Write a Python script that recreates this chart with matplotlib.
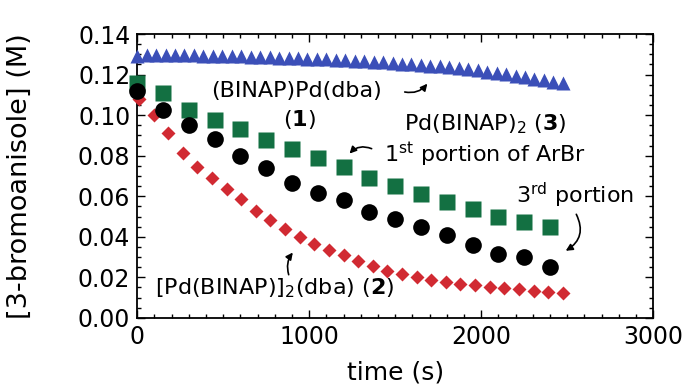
import matplotlib.pyplot as plt
from matplotlib.ticker import MultipleLocator

plt.rcParams['font.family'] = ['DejaVu Sans']

# (BINAP)Pd(dba) (1) - blue triangles
t_blue = [0, 55, 110, 165, 220, 275, 330, 385, 440, 495, 550, 605, 660, 715, 770,
          825, 880, 935, 990, 1045, 1100, 1155, 1210, 1265, 1320, 1375, 1430, 1485,
          1540, 1595, 1650, 1705, 1760, 1815, 1870, 1925, 1980, 2035, 2090, 2145,
          2200, 2255, 2310, 2365, 2420, 2475]
c_blue = [0.1290, 0.1295, 0.1297, 0.1297, 0.1296, 0.1296, 0.1295, 0.1294, 0.1293,
          0.1292, 0.1291, 0.1290, 0.1289, 0.1287, 0.1286, 0.1284, 0.1283, 0.1281,
          0.1279, 0.1278, 0.1276, 0.1274, 0.1271, 0.1268, 0.1266, 0.1263, 0.1260,
          0.1257, 0.1254, 0.1250, 0.1247, 0.1244, 0.1240, 0.1236, 0.1231, 0.1226,
          0.1221, 0.1215, 0.1208, 0.1201, 0.1194, 0.1187, 0.1180, 0.1172, 0.1164,
          0.1156]

# Pd(BINAP)2 (3), 1st portion - green squares
t_green = [0, 150, 300, 450, 600, 750, 900, 1050, 1200, 1350, 1500, 1650, 1800,
           1950, 2100, 2250, 2400]
c_green = [0.1160, 0.1110, 0.1027, 0.0978, 0.0933, 0.0878, 0.0832, 0.0787, 0.0742,
           0.0688, 0.0652, 0.0610, 0.0572, 0.0535, 0.0498, 0.0473, 0.0448]

# 3rd portion - black circles
t_black = [0, 150, 300, 450, 600, 750, 900, 1050, 1200, 1350, 1500, 1650, 1800,
           1950, 2100, 2250, 2400]
c_black = [0.1118, 0.1027, 0.0949, 0.0882, 0.0796, 0.0738, 0.0664, 0.0614, 0.0581,
           0.0523, 0.0486, 0.0448, 0.0407, 0.0357, 0.0316, 0.0299, 0.0250]

# [Pd(BINAP)]2(dba) (2) - red diamonds
t_red = [10, 95, 180, 265, 350, 435, 520, 605, 690, 775, 860, 945, 1030, 1115,
         1200, 1285, 1370, 1455, 1540, 1625, 1710, 1795, 1880, 1965, 2050, 2135,
         2220, 2305, 2390, 2475]
c_red = [0.1080, 0.1000, 0.0910, 0.0815, 0.0745, 0.0690, 0.0636, 0.0584, 0.0528,
         0.0485, 0.0440, 0.0400, 0.0365, 0.0335, 0.0309, 0.0281, 0.0257, 0.0233,
         0.0218, 0.0200, 0.0185, 0.0175, 0.0169, 0.0160, 0.0150, 0.0145, 0.0140,
         0.0135, 0.0130, 0.0125]

fig = plt.figure(figsize=(7, 3.91), dpi=100)
ax = fig.add_axes([0.196, 0.187, 0.737, 0.726])

ax.plot(t_blue, c_blue, '^', color='#3b4fb8', ms=10, mec='none', clip_on=False, zorder=3)
ax.plot(t_red, c_red, 'D', color='#d12a32', ms=7.5, mec='none', clip_on=False, zorder=3)
ax.plot(t_black, c_black, 'o', color='black', ms=12, mec='none', clip_on=False, zorder=4)
ax.plot(t_green, c_green, 's', color='#137042', ms=11.5, mec='none', clip_on=False, zorder=3)

ax.set_xlim(0, 3000)
ax.set_ylim(0, 0.14)
ax.xaxis.set_major_locator(MultipleLocator(1000))
ax.xaxis.set_minor_locator(MultipleLocator(100))
ax.yaxis.set_major_locator(MultipleLocator(0.02))
ax.yaxis.set_minor_locator(MultipleLocator(0.005))
ax.yaxis.set_major_formatter(plt.FormatStrFormatter('%.2f'))
ax.tick_params(which='both', direction='in', top=True, right=True, labelsize=17, width=1)
ax.tick_params(which='major', length=6, pad=5)
ax.tick_params(which='minor', length=3)
for s in ax.spines.values():
    s.set_linewidth(1.3)

ax.set_xlabel('time (s)', fontsize=18)
ax.xaxis.set_label_coords(0.5, -0.15)
ax.set_ylabel('[3-bromoanisole] (M)', fontsize=19.5, va='center')
ax.yaxis.set_label_coords(-0.228, 0.5)

# annotations
fs = 16
ax.text(929, 0.1117, '(BINAP)Pd(dba)', fontsize=fs, ha='center', va='center')
ax.text(944, 0.0978, r'($\mathbf{1}$)', fontsize=fs, ha='center', va='center')
ax.annotate('', xy=(1697, 0.1166), xytext=(1540, 0.1117),
            arrowprops=dict(arrowstyle='-|>', color='black', lw=1.2,
                            connectionstyle='arc3,rad=0.35', mutation_scale=10))
ax.text(2024, 0.0953, r'Pd(BINAP)$_2$ ($\mathbf{3}$)', fontsize=fs, ha='center', va='center')
ax.text(2021, 0.0804, r'1$^{\rm st}$ portion of ArBr', fontsize=fs, ha='center', va='center')
ax.annotate('', xy=(1224, 0.0800), xytext=(1378, 0.0829),
            arrowprops=dict(arrowstyle='-|>', color='black', lw=1.2,
                            connectionstyle='arc3,rad=0.4', mutation_scale=10))
ax.text(2545, 0.0605, r'3$^{\rm rd}$ portion', fontsize=fs, ha='center', va='center')
ax.annotate('', xy=(2478, 0.0324), xytext=(2546, 0.0523),
            arrowprops=dict(arrowstyle='-|>', color='black', lw=1.2,
                            connectionstyle='arc3,rad=-0.5', mutation_scale=10))
ax.text(799, 0.0144, r'[Pd(BINAP)]$_2$(dba) ($\mathbf{2}$)', fontsize=fs, ha='center', va='center')
ax.annotate('', xy=(915, 0.0333), xytext=(886, 0.0200),
            arrowprops=dict(arrowstyle='-|>', color='black', lw=1.2,
                            connectionstyle='arc3,rad=-0.3', mutation_scale=10))

fig.savefig('out.png', dpi=100)
